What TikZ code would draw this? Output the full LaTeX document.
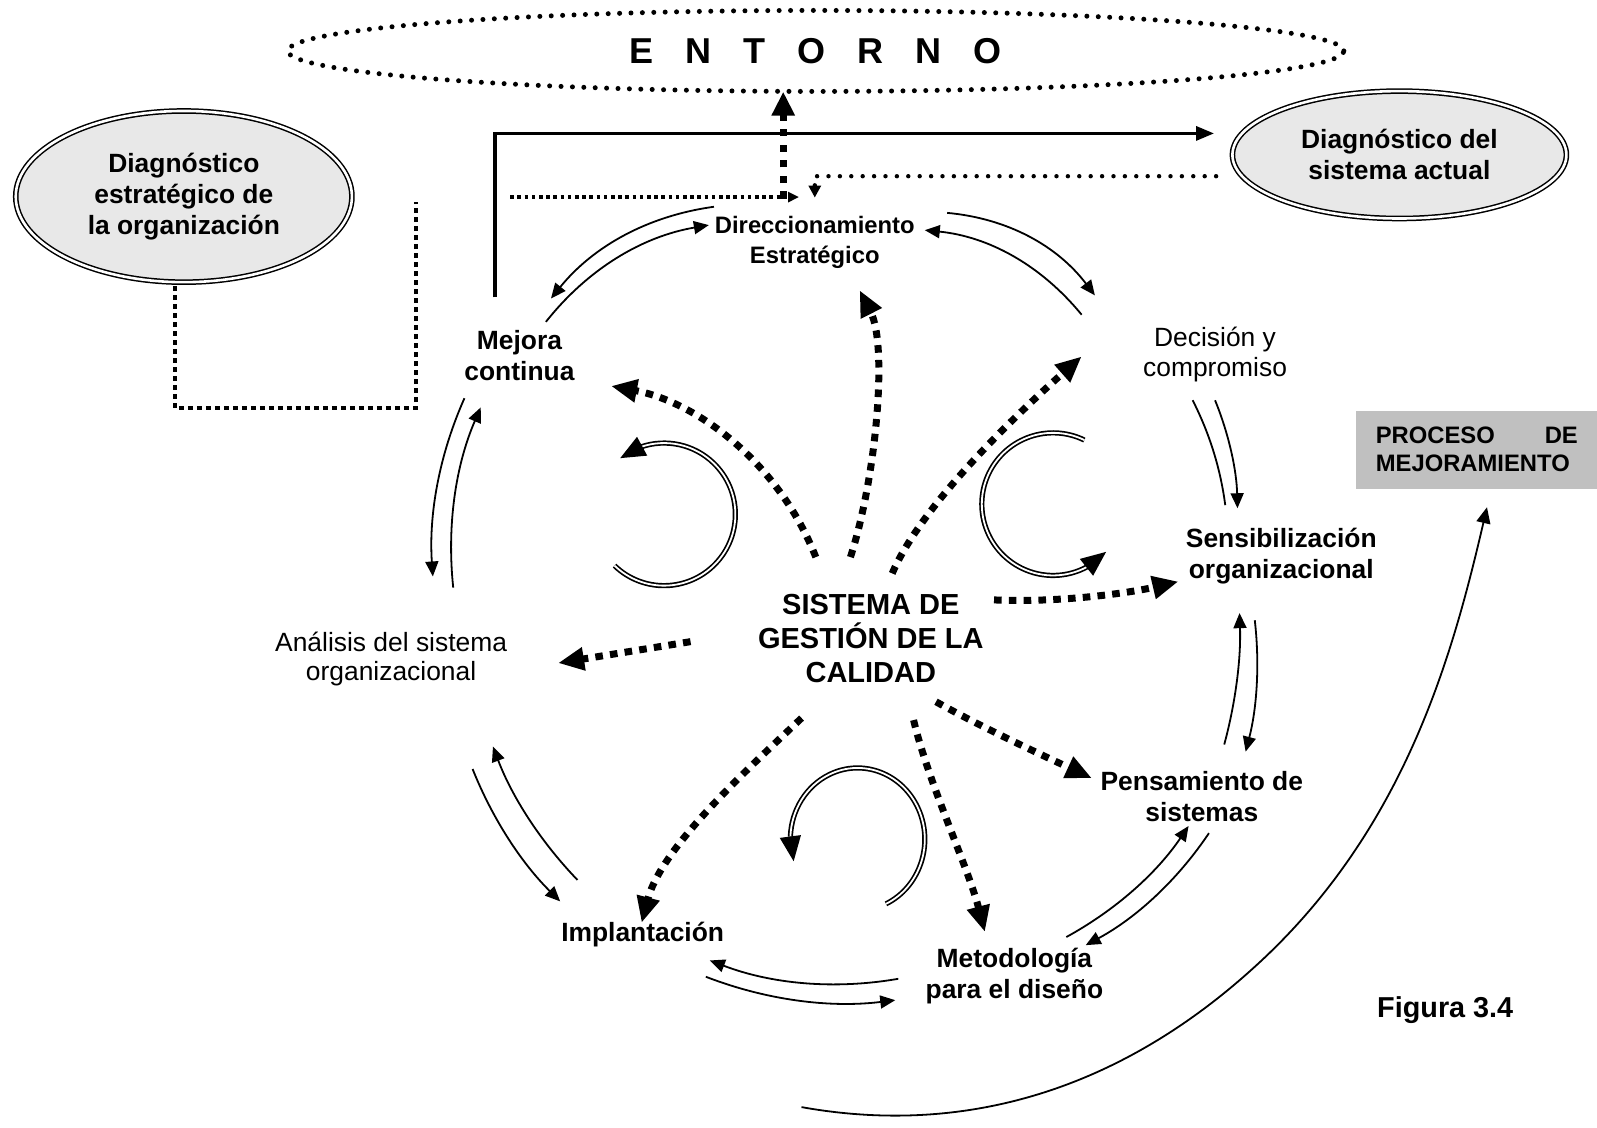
\documentclass[tikz,border=0pt]{standalone}
\usepackage{fontspec}
\setmainfont{Liberation Sans}
\usetikzlibrary{arrows.meta,shapes.geometric,calc}
\definecolor{boxgray}{RGB}{192,192,192}
\definecolor{ovalgray}{RGB}{232,232,232}
% quadratic curve from #2 to #4 with control point #3
\newcommand{\qlink}[4]{\draw[#1] (#2) .. controls ($(#2)!0.6667!(#3)$) and ($(#4)!0.6667!(#3)$) .. (#4);}
\begin{document}
\begin{tikzpicture}[x=0.50925pt,y=-0.50925pt,
  every node/.style={inner sep=0pt},
  lbl/.style={font=\fontsize{13.2}{15.6}\selectfont\bfseries,align=center},
  reg/.style={font=\fontsize{13.2}{14.8}\selectfont,align=center},
  oval/.style={ellipse,draw,double,line width=0.75pt,double distance=1.3pt,
    fill=ovalgray,align=center,font=\fontsize{13.2}{15.4}\selectfont\bfseries},
  link/.style={line width=0.9pt},
  linkarrow/.style={link,-{Triangle[length=7.5pt,width=6.5pt]}},
  flow/.style={line width=3.5pt,dash pattern=on 3.8pt off 3.6pt,
    -{Triangle[length=13pt,width=11pt]}},
  loopline/.style={double,line width=0.85pt,double distance=0.9pt},
  looptip/.style={line width=0.8pt,-{Triangle[length=12.5pt,width=10.5pt]}},
  rounddots/.style={line width=2.5pt,line cap=round,dash pattern=on 0pt off 5.7pt},
  finedots/.style={line width=1.8pt,dash pattern=on 1.8pt off 1.8pt},
  squaredots/.style={line width=2pt,dash pattern=on 2.5pt off 2pt},
]
\useasboundingbox (0,0) rectangle (1568,1107);

% ---- outer elements ----
\node[ellipse,draw,rounddots,minimum width=528pt,minimum height=40.5pt,
  font=\fontsize{18}{20}\selectfont\bfseries] (entorno) at (801,50)
  {E\hspace{16pt}N\hspace{16pt}T\hspace{16pt}O\hspace{16pt}R\hspace{16pt}N\hspace{16pt}O};

\node[oval,minimum width=168.1pt,minimum height=85.6pt] (diagE) at (180.5,193)
  {Diagnóstico\\estratégico de\\la organización};
\node[oval,minimum width=167pt,minimum height=63.7pt] (diagS) at (1374,152)
  {Diagnóstico del\\sistema actual};

\node[fill=boxgray,minimum width=120.2pt,minimum height=39pt,inner xsep=10pt,
  text width=101pt,align=left,font=\fontsize{11.9}{14}\selectfont\bfseries]
  (proc) at (1450,441.5) {PROCESO\hfill DE\\MEJORAMIENTO};

\node[font=\fontsize{14.4}{16}\selectfont\bfseries] (fig) at (1419,992) {Figura 3.4};

% ---- cycle stages ----
\node[font=\fontsize{11.9}{14.8}\selectfont\bfseries,align=center] (dir) at (800,238)
  {Direccionamiento\\Estratégico};
\node[reg] (dec) at (1193,348) {Decisión y\\compromiso};
\node[lbl] (sens) at (1258,546) {Sensibilización\\organizacional};
\node[lbl] (pens) at (1180,782) {Pensamiento de\\sistemas};
\node[lbl] (met) at (996,958) {Metodología\\para el diseño};
\node[lbl] (imp) at (631,918) {Implantación};
\node[reg] (ana) at (384,647) {Análisis del sistema\\organizacional};
\node[lbl] (mej) at (510,349) {Mejora\\continua};
\node[font=\fontsize{14.5}{17.2}\selectfont\bfseries,align=center] (sgc) at (855,627)
  {SISTEMA DE\\GESTIÓN DE LA\\CALIDAD};

% ---- links to the environment and diagnostics ----
\coordinate (mejTop) at (486,292);
\coordinate (diagSin) at (1192,131);
\draw[line width=1.6pt,-{Triangle[length=9pt,width=7pt]}] (mejTop) |- (diagSin);

\coordinate (diagSout) at (1194,173);
\coordinate (dirTopR) at (800,194);
\draw[rounddots,line width=2.2pt,-{Triangle[length=6pt,width=6pt]}] (diagSout) -| (dirTopR);

\coordinate (leftDots) at (501,193.5);
\coordinate (dirTopL) at (784.5,193.5);
\draw[finedots,-{Triangle[length=5.5pt,width=5pt]}] (leftDots) -- (dirTopL);

\coordinate (dirUp) at (769,195);
\coordinate (entBottom) at (769,90);
\draw[line width=3.5pt,dash pattern=on 3.6pt off 4.2pt,
  -{Triangle[length=12pt,width=11pt]}] (dirUp) -- (entBottom);

\coordinate (diagEb) at (172,281);
\coordinate (bracketEnd) at (408,198);
\draw[squaredots] (diagEb) |- (bracketEnd |- 0,401) -- (bracketEnd);

% ---- paired arrows around the cycle ----
\coordinate (a1s) at (701,203); \coordinate (a1e) at (541,293);
\qlink{linkarrow}{a1s}{603,216.5}{a1e}
\coordinate (a2s) at (536,316); \coordinate (a2e) at (696,221);
\qlink{linkarrow}{a2s}{598,237.75}{a2e}

\coordinate (b1s) at (930,209); \coordinate (b1e) at (1075,290);
\qlink{linkarrow}{b1s}{1019.75,217.25}{b1e}
\coordinate (b2s) at (1062,309); \coordinate (b2e) at (908,226);
\qlink{linkarrow}{b2s}{1001.5,235.25}{b2e}

\coordinate (c1s) at (1171,393); \coordinate (c1e) at (1203,496);
\qlink{link}{c1s}{1196,442.25}{c1e}
\coordinate (c2s) at (1193,393); \coordinate (c2e) at (1215,499);
\qlink{linkarrow}{c2s}{1213.75,443.9}{c2e}

\coordinate (d1s) at (1202,731); \coordinate (d1e) at (1217,602);
\qlink{linkarrow}{d1s}{1219.25,667.25}{d1e}
\coordinate (d2s) at (1232,609); \coordinate (d2e) at (1223,738);
\qlink{linkarrow}{d2s}{1239.5,674.25}{d2e}

\coordinate (e1s) at (1047,920); \coordinate (e1e) at (1167,811);
\qlink{linkarrow}{e1s}{1120.5,879.75}{e1e}
\coordinate (e2s) at (1187,818); \coordinate (e2e) at (1066,928);
\qlink{linkarrow}{e2s}{1140,888}{e2e}

\coordinate (f1s) at (882,961); \coordinate (f1e) at (697,943);
\qlink{linkarrow}{f1s}{787.25,977.5}{f1e}
\coordinate (f2s) at (693,959); \coordinate (f2e) at (879,982);
\qlink{linkarrow}{f2s}{783,993.75}{f2e}

\coordinate (g1s) at (464,755); \coordinate (g1e) at (550,885);
\qlink{linkarrow}{g1s}{493.5,829}{g1e}
\coordinate (g2s) at (567,864); \coordinate (g2e) at (484,733);
\qlink{linkarrow}{g2s}{512,806.75}{g2e}

\coordinate (h1s) at (456,391); \coordinate (h1e) at (425,566);
\qlink{linkarrow}{h1s}{418.75,474.75}{h1e}
\coordinate (h2s) at (445,577); \coordinate (h2e) at (472,400);
\qlink{linkarrow}{h2s}{435.25,484.75}{h2e}

% ---- flows from the quality system ----
\coordinate (s1) at (801,547); \coordinate (t1) at (600,379);
\draw[flow] (s1) .. controls (765,455) and (685,395) .. (t1);
\coordinate (s2) at (835,547); \coordinate (t2) at (844,285);
\draw[flow] (s2) .. controls (860,470) and (872,340) .. (t2);
\coordinate (s3) at (876,563); \coordinate (t3) at (1062,350);
\draw[flow] (s3) .. controls (905,495) and (1000,405) .. (t3);
\coordinate (s4) at (976,589); \coordinate (t4) at (1157,571);
\draw[flow] (s4) .. controls (1040,592) and (1110,582) .. (t4);
\coordinate (s5) at (678,630); \coordinate (t5) at (548,651);
\draw[flow] (s5) -- (t5);
\coordinate (s6) at (787,705); \coordinate (t6) at (630,906);
\draw[flow] (s6) .. controls (740,750) and (650,830) .. (t6);
\coordinate (s7) at (897,707); \coordinate (t7) at (967,915);
\draw[flow] (s7) .. controls (912,770) and (950,850) .. (t7);
\coordinate (s8) at (919,689); \coordinate (t8) at (1072,764);
\draw[flow] (s8) .. controls (960,712) and (1020,740) .. (t8);

% ---- circular double arrows ----
\begin{scope}[shift={(652,505)},x=0.50925pt,y=0.50925pt]
  \draw[loopline] (226:70) arc[start angle=226,end angle=469,radius=70];
  \draw[looptip] (469:70) -- (488:70);
\end{scope}
\begin{scope}[shift={(1034,495)},x=0.50925pt,y=0.50925pt]
  \draw[loopline] (64:70) arc[start angle=64,end angle=298.5,radius=70];
  \draw[looptip] (298.5:70) -- (318:70);
\end{scope}
\begin{scope}[shift={(842,824)},x=0.50925pt,y=0.50925pt]
  \draw[loopline] (-65:66 and 70) arc[start angle=-65,end angle=178,x radius=66,y radius=70];
  \draw[looptip] (178:66 and 70) -- (198:66 and 70);
\end{scope}

% ---- long return arrow towards the improvement process ----
\coordinate (bcS) at (787,1087);
\coordinate (bcM) at (1230,951);
\coordinate (bcE) at (1460,498);
\draw[link,-{Triangle[length=8pt,width=7pt]}]
  (bcS) .. controls (954,1117) and (1104,1065) .. (bcM)
        .. controls (1379,817) and (1426,644) .. (bcE);
\end{tikzpicture}
\end{document}
